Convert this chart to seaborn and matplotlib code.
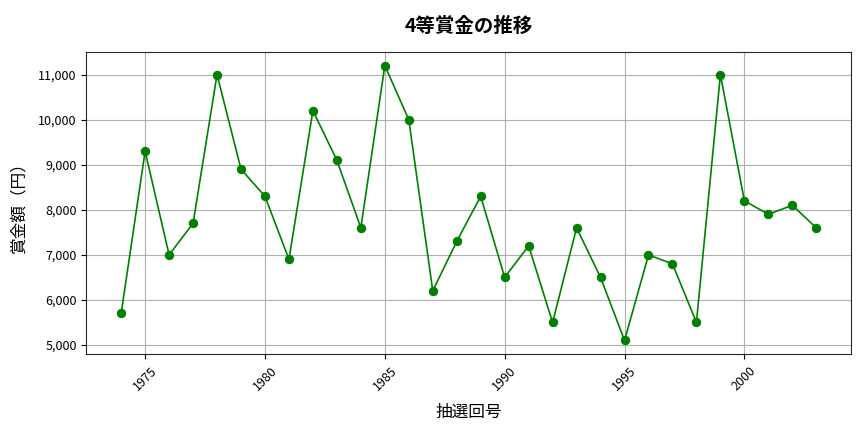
import numpy as np
import pandas as pd
import matplotlib
matplotlib.use("Agg")
import matplotlib.pyplot as plt
import matplotlib.ticker as mticker
import seaborn as sns

sns.set_style("ticks")
plt.rcParams['font.family'] = ['Noto Sans CJK JP', 'DejaVu Sans']
plt.rcParams['text.color'] = 'black'
plt.rcParams['axes.labelcolor'] = 'black'
plt.rcParams['xtick.color'] = 'black'
plt.rcParams['ytick.color'] = 'black'

draws = list(range(1974, 2004))
prize = [5700, 9300, 7000, 7700, 11000, 8900, 8300, 6900, 10200, 9100,
         7600, 11200, 10000, 6200, 7300, 8300, 6500, 7200, 5500, 7600,
         6500, 5100, 7000, 6800, 5500, 11000, 8200, 7900, 8100, 7600]

df = pd.DataFrame({"draw": draws, "prize": prize})

fig, ax = plt.subplots(figsize=(8.64, 4.32), dpi=100)
sns.lineplot(data=df, x="draw", y="prize", ax=ax, color="green",
             marker="o", markersize=6, markeredgecolor="green", linewidth=1.2)

ax.set_title("4等賞金の推移", fontsize=14, fontweight="bold", pad=14)
ax.set_xlabel("抽選回号", fontsize=12, labelpad=8)
ax.set_ylabel("賞金額（円）", fontsize=12, labelpad=8)
ax.yaxis.set_major_formatter(mticker.FuncFormatter(lambda v, p: f"{int(v):,}"))
ax.xaxis.set_major_locator(mticker.MultipleLocator(5))
ax.set_yticks(range(5000, 11001, 1000))
ax.tick_params(axis="x", rotation=45, labelsize=9)
ax.tick_params(axis="y", labelsize=9)
ax.grid(True, color="#b0b0b0", linewidth=0.8)

fig.subplots_adjust(left=0.1, right=0.985, top=0.88, bottom=0.18)
fig.savefig("out.png", dpi=100)
